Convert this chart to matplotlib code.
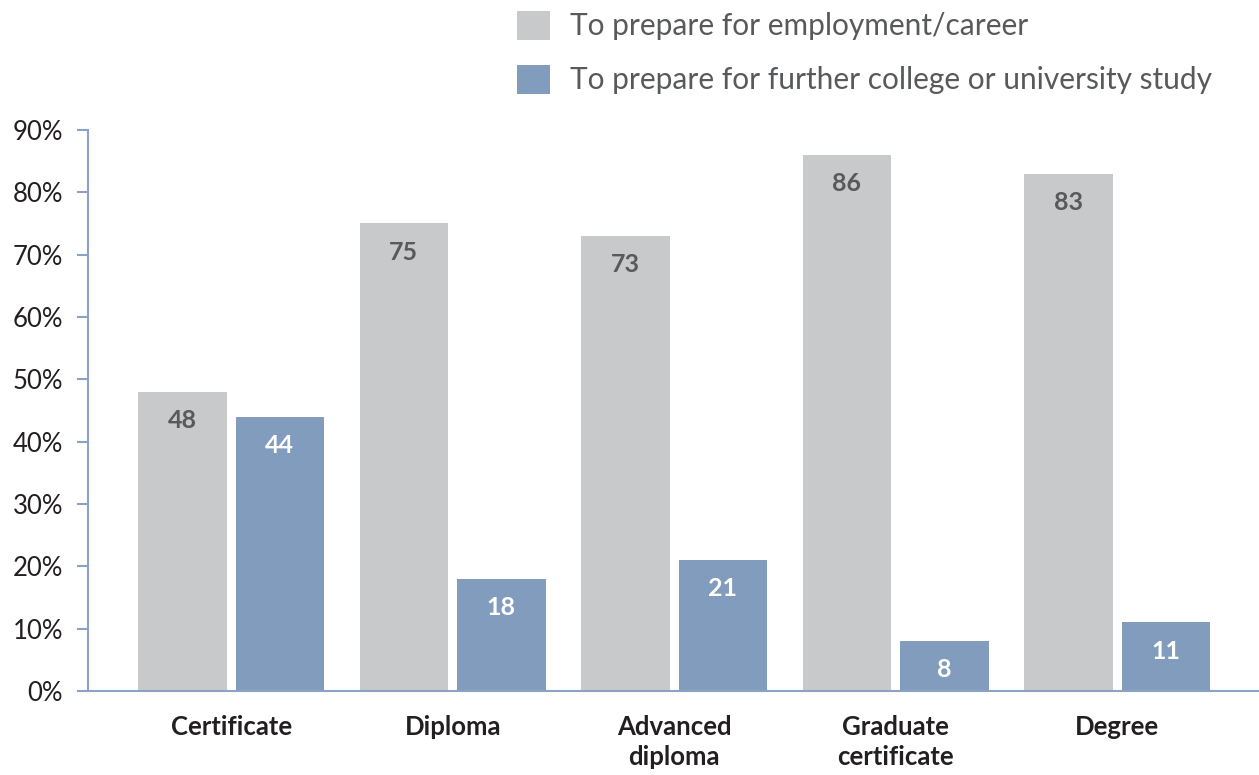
import matplotlib.pyplot as plt
import numpy as np

plt.rcParams['font.family'] = ['Lato', 'DejaVu Sans']

# Survey data: main reason for undertaking the qualification
categories = ['Certificate', 'Diploma', 'Advanced\ndiploma', 'Graduate\ncertificate', 'Degree']
employment = [48, 75, 73, 86, 83]
further_study = [44, 18, 21, 8, 11]
series_names = ['To prepare for employment/career',
                'To prepare for further college or university study']

gray = '#c8c9cb'
blue = '#819cbd'
axis_col = '#8aa3c4'

fig = plt.figure(figsize=(12.59, 7.75), dpi=100)
ax = fig.add_axes([0.0699, 0.1084, 0.9301, 0.7239])

x = np.arange(len(categories))
w = 0.40
off = 0.22
b1 = ax.bar(x - off, employment, width=w, color=gray)
b2 = ax.bar(x + off, further_study, width=w, color=blue)

for bars, vals, tc in [(b1, employment, '#58595b'), (b2, further_study, 'white')]:
    for r, v in zip(bars, vals):
        ax.text(r.get_x() + r.get_width() / 2, v - 4.6, str(v), ha='center', va='center',
                fontsize=18, fontweight='bold', color=tc)

ax.set_xlim(-0.646, 4.64)
ax.set_ylim(0, 90)
ax.set_yticks(range(0, 91, 10))
ax.set_yticklabels([f'{t}%' for t in range(0, 91, 10)], fontsize=18.5, color='#231f20')
ax.set_xticks(x)
ax.set_xticklabels(categories, fontsize=18.5, fontweight='bold', color='#231f20', linespacing=1.3)
ax.tick_params(axis='x', length=0, pad=17)
ax.tick_params(axis='y', length=8, width=1.5, color=axis_col, pad=10)
for side in ['top', 'right']:
    ax.spines[side].set_visible(False)
for side in ['left', 'bottom']:
    ax.spines[side].set_color(axis_col)
    ax.spines[side].set_linewidth(1.5)

leg = fig.legend([b1, b2], series_names, loc='upper left',
                 bbox_to_anchor=(517 / 1259, 1 - 11 / 775), bbox_transform=fig.transFigure,
                 frameon=False, fontsize=21.5, handlelength=1.1, handleheight=1.1,
                 handletextpad=0.67, labelspacing=0.82, borderpad=0, borderaxespad=0)
for t in leg.get_texts():
    t.set_color('#58595b')

fig.savefig('out.png', dpi=100)
